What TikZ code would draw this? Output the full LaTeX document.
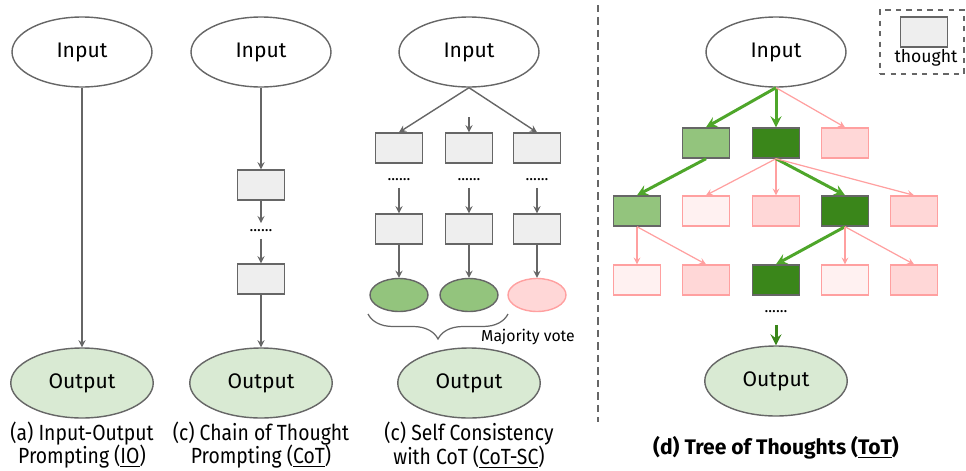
\documentclass[tikz,border=0pt]{standalone}
\usepackage{fontspec}
\setmainfont{Fira Sans}
\newfontfamily\capfont[FakeStretch=0.88]{Fira Sans}
\usetikzlibrary{shapes.geometric, arrows, decorations.pathreplacing}
\definecolor{boxgray}{RGB}{238,238,238}
\definecolor{linegray}{RGB}{102,102,102}
\definecolor{outgreen}{RGB}{217,234,211}
\definecolor{lightgreen}{RGB}{147,196,125}
\definecolor{darkgreen}{RGB}{58,134,26}
\definecolor{arrowgreen}{RGB}{78,166,42}
\definecolor{pinkfill}{RGB}{255,215,215}
\definecolor{palepink}{RGB}{255,241,241}
\definecolor{pinkline}{RGB}{255,160,160}
\tikzstyle{inputnode} = [ellipse, minimum width=2.8cm, minimum height=1.4cm, draw=linegray, line width=0.8pt, fill=white, font=\fontsize{12}{14}\selectfont]
\tikzstyle{outputnode} = [ellipse, minimum width=2.85cm, minimum height=1.4cm, draw=linegray, line width=0.8pt, fill=outgreen, font=\fontsize{12}{14}\selectfont]
\tikzstyle{thought} = [rectangle, minimum width=0.94cm, minimum height=0.6cm, draw=linegray, line width=0.8pt, fill=boxgray]
\tikzstyle{greenbox} = [thought, fill=lightgreen]
\tikzstyle{darkbox} = [thought, fill=darkgreen]
\tikzstyle{pinkbox} = [thought, draw=pinkline, fill=pinkfill]
\tikzstyle{palebox} = [thought, draw=pinkline, fill=palepink]
\tikzstyle{answer} = [ellipse, minimum width=1.16cm, minimum height=0.66cm, draw=linegray, line width=0.8pt, fill=lightgreen]
\tikzstyle{badanswer} = [answer, draw=pinkline, fill=pinkfill]
\tikzstyle{dotrow} = [inner sep=0pt, minimum height=0.3cm, font=\fontsize{9}{9}\selectfont]
\tikzstyle{subcap} = [align=center, font=\capfont\fontsize{12.5}{13.5}\selectfont]
\tikzstyle{arrow} = [linegray, line width=0.8pt, ->, >=stealth]
\tikzstyle{goodarrow} = [arrowgreen, line width=1.7pt, ->, >=stealth]
\tikzstyle{badarrow} = [pinkline, line width=0.7pt, ->, >=stealth]
\tikzstyle{divider} = [linegray, line width=1.2pt, dash pattern=on 0.15cm off 0.1cm]
\tikzstyle{votebrace} = [linegray, line width=0.7pt, decorate, decoration={brace, mirror, amplitude=0.5cm}]
\begin{document}
\begin{tikzpicture}[x=0.02cm, y=-0.02cm]
\useasboundingbox (0,0) rectangle (966,470);
% (a) IO
\node (inA) [inputnode] at (82,52) {Input};
\node (outA) [outputnode] at (82,383) {Output};
\node (capA) [subcap] at (82,445) {(a) Input-Output\\Prompting (\underline{IO})};
\draw [arrow] (inA) -- (outA);

% (b) CoT
\node (inB) [inputnode] at (261,52) {Input};
\node (tB1) [thought] at (261,185) {};
\node (dotsB) [dotrow] at (261,231) {......};
\node (tB2) [thought] at (261,279) {};
\node (outB) [outputnode] at (261,383) {Output};
\node (capB) [subcap] at (261,445) {(c) Chain of Thought\\Prompting (\underline{CoT})};
\draw [arrow] (inB) -- (tB1);
\draw [arrow] (tB1) -- (dotsB);
\draw [arrow] (dotsB) -- (tB2);
\draw [arrow] (tB2) -- (outB);

% (c) CoT-SC
\node (inC) [inputnode] at (469,52) {Input};
\coordinate (midC) at (469,117);
\node (cA1) [thought] at (399,148) {};
\node (cB1) [thought] at (469,148) {};
\node (cC1) [thought] at (537,148) {};
\node (dotsCA) [dotrow] at (399,180) {......};
\node (dotsCB) [dotrow] at (469,180) {......};
\node (dotsCC) [dotrow] at (537,180) {......};
\node (cA2) [thought] at (399,229) {};
\node (cB2) [thought] at (469,229) {};
\node (cC2) [thought] at (537,229) {};
\node (ansA) [answer] at (399,295) {};
\node (ansB) [answer] at (469,295) {};
\node (ansC) [badanswer] at (537,295) {};
\node (vote) [font=\fontsize{9}{10}\selectfont] at (528,337) {Majority vote};
\node (outC) [outputnode] at (469,383) {Output};
\node (capC) [subcap] at (469,445) {(c) Self Consistency\\with CoT (\underline{CoT-SC})};
\draw [votebrace] (368,314) -- (508,314);
\draw [arrow] (inC.south) -- (cA1.north);
\draw [arrow] (midC) -- (cB1.north);
\draw [arrow] (inC.south) -- (cC1.north);
\draw [arrow] (dotsCA) -- (cA2);
\draw [arrow] (dotsCB) -- (cB2);
\draw [arrow] (dotsCC) -- (cC2);
\draw [arrow] (cA2) -- (ansA);
\draw [arrow] (cB2) -- (ansB);
\draw [arrow] (cC2) -- (ansC);

\draw [divider] (598,5) -- (598,422);

% (d) ToT
\node (legend) [draw=linegray, line width=0.7pt, dashed, minimum width=1.68cm, minimum height=1.28cm] at (922,42) {};
\node (legbox) [thought] at (924,32) {};
\node (legtext) [font=\fontsize{10}{11}\selectfont] at (926,58) {thought};
\node (inD) [inputnode] at (776,52) {Input};
\node (d11) [greenbox] at (706,143) {};
\node (d12) [darkbox] at (776,143) {};
\node (d13) [pinkbox] at (845,143) {};
\node (d21) [greenbox] at (637,211) {};
\node (d22) [palebox] at (706,211) {};
\node (d23) [pinkbox] at (776,211) {};
\node (d24) [darkbox] at (845,211) {};
\node (d25) [pinkbox] at (914,211) {};
\node (d31) [palebox] at (637,280) {};
\node (d32) [pinkbox] at (706,280) {};
\node (d33) [darkbox] at (776,280) {};
\node (d34) [palebox] at (845,280) {};
\node (d35) [pinkbox] at (914,280) {};
\node (dotsD) [dotrow, minimum height=0.5cm] at (776,312) {......};
\node (outD) [outputnode] at (776,381) {Output};
\node (capD) [subcap, font=\fontsize{12}{13}\selectfont\bfseries] at (776,448) {(d) Tree of Thoughts (\underline{ToT})};
\draw [goodarrow] (inD.south) -- (d11.north);
\draw [goodarrow] (inD.south) -- (d12.north);
\draw [badarrow] (inD.south) -- (d13.north);
\draw [goodarrow] (d11.south) -- (d21.north);
\draw [badarrow] (d12.south) -- (d22.north);
\draw [badarrow] (d12.south) -- (d23.north);
\draw [goodarrow] (d12.south) -- (d24.north);
\draw [badarrow] (d12.south) -- (d25.north);
\draw [badarrow] (d21.south) -- (d31.north);
\draw [badarrow] (d21.south) -- (d32.north);
\draw [goodarrow] (d24.south) -- (d33.north);
\draw [badarrow] (d24.south) -- (d34.north);
\draw [badarrow] (d24.south) -- (d35.north);
\draw [goodarrow, darkgreen] (dotsD.south) -- (outD);
\end{tikzpicture}
\end{document}
